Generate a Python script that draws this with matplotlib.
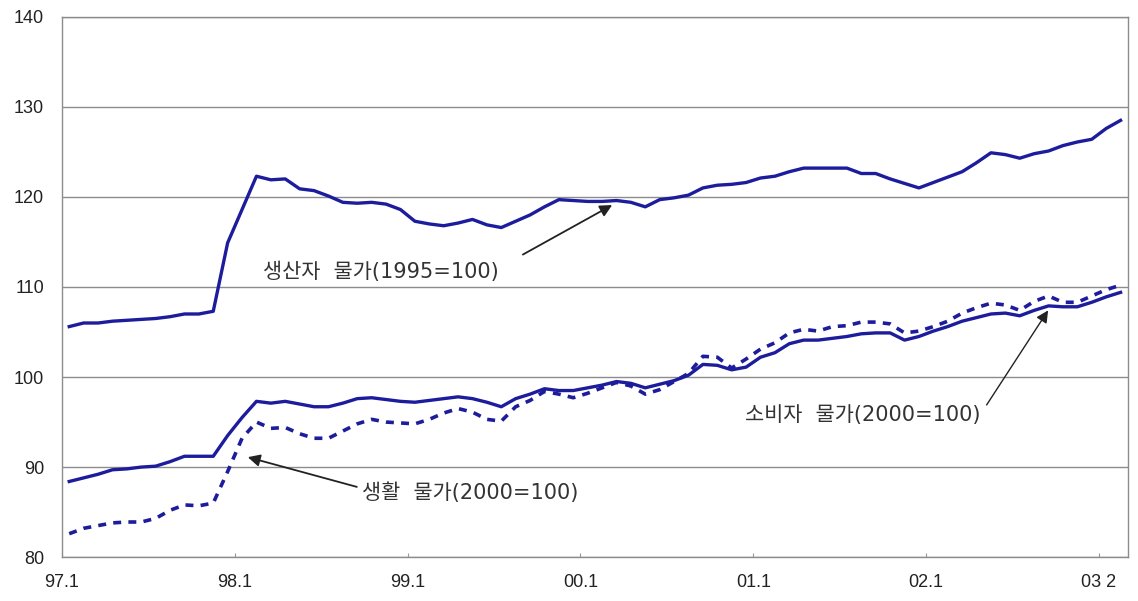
import matplotlib.pyplot as plt
import numpy as np

plt.rcParams['font.family'] = ['Liberation Sans', 'Noto Sans CJK KR', 'DejaVu Sans']

# monthly series, 97.1 ~ 03.2
producer = [105.6, 106.0, 106.0, 106.2, 106.3, 106.4, 106.5, 106.7, 107.0, 107.0,
            107.3, 114.9, 118.6, 122.3, 121.9, 122.0, 120.9, 120.7, 120.1, 119.4,
            119.3, 119.4, 119.2, 118.6, 117.3, 117.0, 116.8, 117.1, 117.5, 116.9,
            116.6, 117.3, 118.0, 118.9, 119.7, 119.6, 119.5, 119.5, 119.6, 119.4,
            118.9, 119.7, 119.9, 120.2, 121.0, 121.3, 121.4, 121.6, 122.1, 122.3,
            122.8, 123.2, 123.2, 123.2, 123.2, 122.6, 122.6, 122.0, 121.5, 121.0,
            121.6, 122.2, 122.8, 123.8, 124.9, 124.7, 124.3, 124.8, 125.1, 125.7,
            126.1, 126.4, 127.6, 128.5]
consumer = [88.4, 88.8, 89.2, 89.7, 89.8, 90.0, 90.1, 90.6, 91.2, 91.2,
            91.2, 93.5, 95.5, 97.3, 97.1, 97.3, 97.0, 96.7, 96.7, 97.1,
            97.6, 97.7, 97.5, 97.3, 97.2, 97.4, 97.6, 97.8, 97.6, 97.2,
            96.7, 97.6, 98.1, 98.7, 98.5, 98.5, 98.8, 99.1, 99.5, 99.3,
            98.8, 99.2, 99.6, 100.2, 101.4, 101.3, 100.8, 101.1, 102.2, 102.7,
            103.7, 104.1, 104.1, 104.3, 104.5, 104.8, 104.9, 104.9, 104.1, 104.5,
            105.1, 105.6, 106.2, 106.6, 107.0, 107.1, 106.8, 107.4, 107.9, 107.8,
            107.8, 108.3, 108.9, 109.4]
living = [82.6, 83.2, 83.5, 83.8, 83.9, 83.9, 84.3, 85.2, 85.8, 85.7,
          86.0, 89.5, 93.2, 95.0, 94.3, 94.4, 93.7, 93.2, 93.2, 94.0,
          94.8, 95.3, 95.0, 94.9, 94.8, 95.3, 96.0, 96.5, 96.1, 95.3,
          95.1, 96.7, 97.4, 98.4, 98.1, 97.7, 98.2, 98.8, 99.4, 99.0,
          98.1, 98.6, 99.5, 100.4, 102.3, 102.2, 101.0, 102.0, 103.1, 103.8,
          104.9, 105.3, 105.1, 105.6, 105.7, 106.1, 106.1, 105.9, 104.9, 105.1,
          105.6, 106.2, 107.1, 107.7, 108.2, 108.0, 107.4, 108.4, 109.0, 108.3,
          108.3, 109.0, 109.7, 110.2]
tick_labels = ['97.1', '98.1', '99.1', '00.1', '01.1', '02.1', '03 2']

months = np.arange(len(producer))
blue = '#1c1c9c'

fig = plt.figure(figsize=(11.38, 6.01), dpi=100)
ax = fig.add_axes([0.0545, 0.073, 0.9365, 0.899])

ax.plot(months, producer, color=blue, lw=2.4)
ax.plot(months, consumer, color=blue, lw=2.4)
ax.plot(months, living, color=blue, lw=2.6, linestyle=(0, (2.2, 2.0)))

ax.set_xlim(-0.5, len(producer) - 0.5)
ax.set_ylim(80, 140)
ax.set_yticks(range(80, 141, 10))
ax.set_xticks([i * 12 - 0.5 for i in range(len(tick_labels))])
ax.set_xticklabels(tick_labels)
ax.tick_params(axis='y', length=0, pad=13, labelsize=13, labelcolor='#222222')
ax.tick_params(axis='x', direction='in', length=3, color='#999999', pad=12,
               labelsize=13, labelcolor='#222222')
ax.grid(axis='y', color='#8c8c8c', lw=1)
ax.set_axisbelow(True)
for side in ['left', 'bottom', 'top', 'right']:
    ax.spines[side].set_color('#8c8c8c')
    ax.spines[side].set_linewidth(1)

# annotation labels and arrows
kfont = ['DejaVu Sans', 'Noto Sans CJK KR']
txt = dict(fontsize=15, family=kfont, color='#333333', va='center', ha='left')
arrow = dict(arrowstyle='-|>', color='#222222', lw=1.3, shrinkA=0, shrinkB=0,
             mutation_scale=18)

ax.text(13.45, 111.7, '생산자  물가(1995=100)', **txt)
ax.annotate('', xy=(37.7, 119.1), xytext=(31.5, 113.6), arrowprops=arrow)

ax.text(46.9, 95.8, '소비자  물가(2000=100)', **txt)
ax.annotate('', xy=(67.97, 107.4), xytext=(63.7, 96.9),
            arrowprops=dict(arrow, lw=1.0))

ax.text(20.3, 87.1, '생활  물가(2000=100)', **txt)
ax.annotate('', xy=(12.4, 91.1), xytext=(19.97, 87.8), arrowprops=arrow)

fig.savefig('out.png', dpi=100)
